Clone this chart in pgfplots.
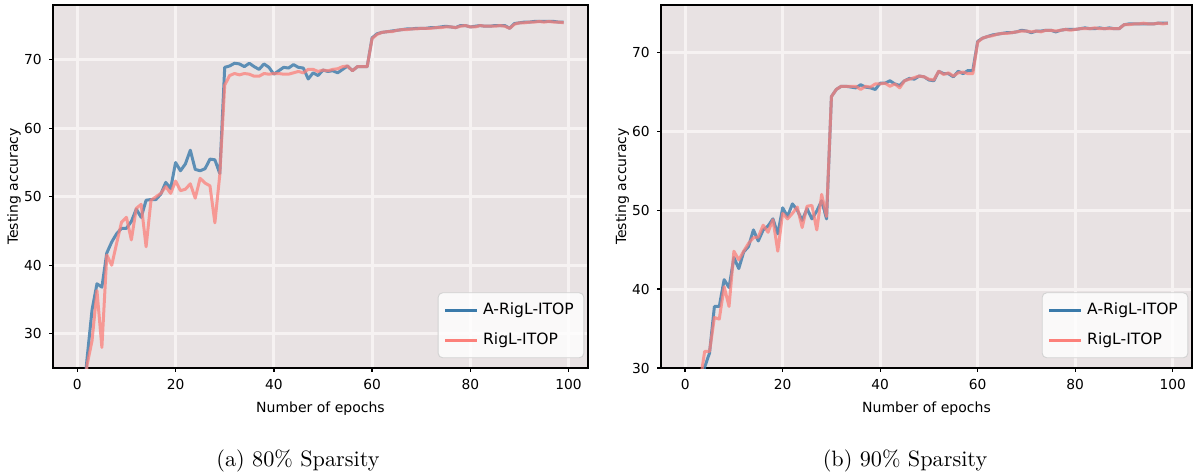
\documentclass[border=0pt]{standalone}
\usepackage{fontspec}
\usepackage{pgfplots}
\pgfplotsset{compat=1.18}
\usepackage{pgfplotstable}
\newfontfamily\dejavu{DejaVu Sans}
\definecolor{bgc}{RGB}{232,226,227}
\definecolor{gridc}{RGB}{246,242,242}
\definecolor{ablue}{RGB}{58,122,170}
\definecolor{rred}{RGB}{252,128,122}

% 80% sparsity
\pgfplotstableread{
e acc
0 14
1 19
2 26.5
3 33.5
4 37.3
5 36.8
6 41.8
7 43.4
8 44.6
9 45.4
10 45.4
11 46.4
12 48.2
13 47.0
14 49.5
15 49.6
16 49.6
17 50.4
18 52.1
19 51.2
20 55.0
21 53.8
22 54.8
23 56.8
24 54.0
25 53.8
26 54.1
27 55.5
28 55.4
29 53.4
30 68.9
31 69.1
32 69.5
33 69.4
34 69.0
35 69.5
36 69.0
37 68.6
38 69.4
39 68.9
40 67.9
41 68.4
42 68.9
43 68.8
44 69.3
45 68.9
46 68.8
47 67.2
48 68.1
49 67.7
50 68.5
51 68.3
52 68.4
53 68.1
54 68.6
55 69.1
56 68.4
57 69.0
58 69.0
59 69.0
60 73.2
61 73.8
62 74.0
63 74.1
64 74.2
65 74.3
66 74.4
67 74.5
68 74.5
69 74.6
70 74.6
71 74.6
72 74.7
73 74.7
74 74.8
75 74.9
76 74.8
77 74.7
78 75.0
79 75.0
80 74.8
81 74.9
82 75.0
83 74.9
84 74.9
85 75.0
86 75.0
87 75.0
88 74.6
89 75.3
90 75.4
91 75.5
92 75.5
93 75.6
94 75.6
95 75.6
96 75.6
97 75.6
98 75.5
99 75.5
}\leftA

\pgfplotstableread{
e acc
0 13
1 18
2 25.5
3 29.0
4 36.3
5 28.0
6 41.5
7 40.0
8 43.2
9 46.3
10 47.0
11 43.7
12 48.3
13 48.9
14 42.7
15 49.5
16 50.0
17 50.5
18 51.5
19 50.5
20 52.3
21 50.9
22 51.1
23 51.9
24 49.8
25 52.7
26 52.0
27 51.6
28 46.2
29 53.2
30 66.3
31 67.7
32 68.0
33 67.8
34 68.0
35 67.9
36 67.6
37 67.6
38 68.0
39 67.9
40 68.0
41 68.0
42 67.9
43 67.9
44 68.1
45 68.3
46 68.1
47 68.6
48 68.6
49 68.3
50 68.5
51 68.4
52 68.6
53 68.7
54 69.0
55 69.1
56 68.4
57 69.0
58 69.0
59 69.0
60 73.1
61 73.7
62 74.0
63 74.1
64 74.1
65 74.3
66 74.4
67 74.4
68 74.5
69 74.5
70 74.6
71 74.6
72 74.6
73 74.7
74 74.7
75 74.8
76 74.8
77 74.7
78 74.9
79 75.0
80 74.8
81 74.8
82 75.0
83 74.9
84 74.9
85 74.9
86 75.0
87 74.9
88 74.6
89 75.2
90 75.4
91 75.4
92 75.5
93 75.5
94 75.6
95 75.5
96 75.6
97 75.5
98 75.5
99 75.4
}\leftB

% 90% sparsity
\pgfplotstableread{
e acc
0 15
1 20
2 24
3 25.5
4 30.1
5 31.9
6 37.8
7 37.8
8 41.2
9 40.2
10 44.0
11 42.6
12 44.7
13 45.4
14 47.5
15 46.1
16 47.5
17 48.0
18 48.9
19 47.0
20 50.3
21 49.2
22 50.8
23 50.0
24 48.7
25 50.2
26 48.9
27 49.9
28 51.2
29 48.9
30 64.4
31 65.3
32 65.7
33 65.7
34 65.6
35 65.5
36 65.9
37 65.6
38 65.5
39 65.3
40 66.1
41 66.1
42 66.4
43 66.0
44 65.8
45 66.4
46 66.7
47 66.6
48 67.0
49 66.9
50 66.5
51 66.4
52 67.6
53 67.3
54 67.3
55 66.9
56 67.6
57 67.3
58 67.7
59 67.7
60 71.4
61 71.8
62 72.0
63 72.2
64 72.3
65 72.4
66 72.5
67 72.5
68 72.6
69 72.8
70 72.7
71 72.5
72 72.7
73 72.7
74 72.8
75 72.8
76 72.6
77 72.8
78 72.9
79 72.9
80 72.9
81 73.0
82 73.1
83 73.0
84 73.0
85 73.1
86 73.0
87 73.1
88 73.0
89 73.0
90 73.5
91 73.6
92 73.6
93 73.6
94 73.6
95 73.6
96 73.6
97 73.7
98 73.7
99 73.7
}\rightA

\pgfplotstableread{
e acc
0 15
1 20
2 24
3 28
4 32.1
5 32.1
6 36.4
7 36.2
8 40.3
9 37.8
10 44.8
11 43.7
12 44.8
13 45.8
14 46.5
15 46.6
16 48.1
17 47.2
18 48.8
19 44.8
20 49.6
21 48.9
22 49.6
23 50.4
24 47.8
25 50.5
26 50.6
27 47.5
28 52.0
29 49.2
30 64.4
31 65.3
32 65.7
33 65.7
34 65.7
35 65.7
36 65.3
37 65.7
38 65.6
39 66.0
40 66.0
41 66.1
42 65.7
43 66.0
44 65.5
45 66.4
46 66.6
47 66.8
48 67.0
49 66.9
50 66.6
51 66.5
52 67.6
53 67.2
54 67.4
55 67.0
56 67.4
57 67.5
58 67.3
59 67.3
60 71.3
61 71.8
62 72.0
63 72.1
64 72.3
65 72.4
66 72.4
67 72.5
68 72.6
69 72.7
70 72.7
71 72.6
72 72.7
73 72.6
74 72.8
75 72.8
76 72.7
77 72.8
78 72.9
79 72.8
80 72.9
81 73.0
82 73.0
83 73.0
84 73.1
85 73.0
86 73.0
87 73.0
88 73.0
89 73.0
90 73.5
91 73.5
92 73.6
93 73.6
94 73.7
95 73.6
96 73.6
97 73.7
98 73.6
99 73.7
}\rightB

\pgfplotsset{
  accplot/.style={
    scale only axis,
    width=240.75pt, height=163.35pt,
    xmin=-4.95, xmax=103.95,
    xtick={0,20,...,100},
    axis background/.style={fill=bgc},
    grid=major,
    major grid style={gridc, line width=1.3pt},
    axis line style={black, line width=0.7pt},
    tick style={black, line width=0.6pt},
    major tick length=1.6pt,
    tick align=outside,
    xtick pos=left, ytick pos=left,
    /pgf/number format/assume math mode=true,
    tick label style={font=\dejavu\fontsize{6.2}{7}\selectfont},
    xlabel={Number of epochs},
    ylabel={Testing accuracy},
    every axis x label/.style={at={(axis description cs:0.5,-0.113)}, anchor=center,
      font=\dejavu\fontsize{6.3}{7}\selectfont},
    every axis y label/.style={at={(axis description cs:-0.073,0.5)}, rotate=90, anchor=center,
      font=\dejavu\fontsize{6.3}{7}\selectfont},
    legend style={at={(axis description cs:0.993,0.027)}, anchor=south east,
      fill=white, fill opacity=0.8, text opacity=1, draw=gray!35,
      rounded corners=2pt, font=\dejavu\fontsize{7}{8.4}\selectfont,
      row sep=2.6pt, inner sep=2.5pt},
    legend cell align=left,
    legend image code/.code={\draw[#1, opacity=1] (0pt,0pt) -- (14.4pt,0pt);},
    every axis plot/.append style={line width=1.35pt, line join=round},
  }
}

\begin{document}
\begin{tikzpicture}
\useasboundingbox (0pt,0pt) rectangle (536.85pt,-211.95pt);

\begin{axis}[accplot, at={(23.85pt,-165.6pt)}, anchor=south west,
  ymin=25, ymax=78, ytick={30,40,...,70}]
  \addplot[color=ablue, draw opacity=0.8] table[x=e,y=acc] {\leftA};
  \addlegendentry{A-RigL-ITOP}
  \addplot[color=rred, draw opacity=0.75] table[x=e,y=acc] {\leftB};
  \addlegendentry{RigL-ITOP}
\end{axis}

\begin{axis}[accplot, at={(297.45pt,-165.6pt)}, anchor=south west,
  width=238.95pt, ymin=30, ymax=76, ytick={30,40,...,70}]
  \addplot[color=ablue, draw opacity=0.8] table[x=e,y=acc] {\rightA};
  \addlegendentry{A-RigL-ITOP}
  \addplot[color=rred, draw opacity=0.75] table[x=e,y=acc] {\rightB};
  \addlegendentry{RigL-ITOP}
\end{axis}

\node[font=\fontsize{10}{12}\selectfont] at (134.1pt,-207.5pt) {(a) 80\% Sparsity};
\node[font=\fontsize{10}{12}\selectfont] at (407.25pt,-207.5pt) {(b) 90\% Sparsity};
\end{tikzpicture}
\end{document}
